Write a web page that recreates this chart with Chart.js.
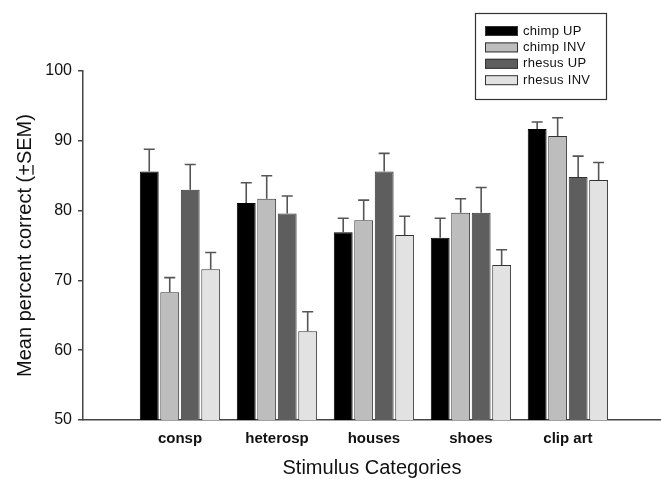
<!DOCTYPE html>
<html>
<head>
<meta charset="utf-8">
<script src="https://cdn.jsdelivr.net/npm/chart.js@4.4.1/dist/chart.umd.min.js"></script>
<style>
  html, body { margin: 0; padding: 0; background: #fff; }
  #wrap { width: 661px; height: 479px; position: relative; }
</style>
</head>
<body>
<div id="wrap"><canvas id="chart"></canvas></div>
<script>
// values (mean % correct, and SEM)
const categories = ['consp', 'heterosp', 'houses', 'shoes', 'clip art'];
const seriesNames = ['chimp UP', 'chimp INV', 'rhesus UP', 'rhesus INV'];
const chimpUp = [85.6, 81.1, 76.9, 76.1, 91.7];
const chimpInv = [68.3, 81.7, 78.6, 79.7, 90.7];
const rhesusUp = [83.0, 79.6, 85.6, 79.7, 84.8];
const rhesusInv = [71.6, 62.7, 76.5, 72.2, 84.4];
const chimpUpSem = [3.2, 2.9, 2.0, 2.8, 1.0];
const chimpInvSem = [2.1, 3.3, 2.9, 2.0, 2.6];
const rhesusUpSem = [3.6, 2.5, 2.6, 3.6, 3.0];
const rhesusInvSem = [2.4, 2.8, 2.7, 2.2, 2.5];
const yTicks = [50, 60, 70, 80, 90, 100];

const FONT = '"Liberation Sans", Arial, sans-serif';
const fills = ['#000000', '#bdbdbd', '#5e5e5e', '#e2e2e2'];
const allValues = [chimpUp, chimpInv, rhesusUp, rhesusInv];
const allSems = [chimpUpSem, chimpInvSem, rhesusUpSem, rhesusInvSem];

const datasets = allValues.map((vals, k) => ({
    label: seriesNames[k],
    data: vals.map((v, i) => ({ x: i, y: v })),
    sem: allSems[k],
    backgroundColor: fills[k],
    borderColor: k === 0 ? '#000000' : '#333333',
    borderWidth: 1,
    categoryPercentage: 0.845,
    barPercentage: 0.92
}));

// error bars (upper half only, like the original)
const errorBars = {
    id: 'errorBars',
    afterDatasetsDraw(chart) {
        const ctx = chart.ctx;
        const y = chart.scales.y;
        ctx.save();
        ctx.strokeStyle = '#555';
        ctx.lineWidth = 1.6;
        chart.data.datasets.forEach((ds, k) => {
            chart.getDatasetMeta(k).data.forEach((bar, i) => {
                const top = y.getPixelForValue(ds.data[i].y + ds.sem[i]);
                ctx.beginPath();
                ctx.moveTo(bar.x, bar.y);
                ctx.lineTo(bar.x, top);
                ctx.moveTo(bar.x - 5.5, top);
                ctx.lineTo(bar.x + 5.5, top);
                ctx.stroke();
            });
        });
        ctx.restore();
    }
};

// axis titles + boxed legend
const extras = {
    id: 'extras',
    afterDraw(chart) {
        const ctx = chart.ctx;
        const area = chart.chartArea;
        ctx.save();
        ctx.fillStyle = '#111';

        // x title
        ctx.font = '20px ' + FONT;
        ctx.textAlign = 'center';
        ctx.textBaseline = 'middle';
        ctx.fillText('Stimulus Categories', 372, 468);

        // y title with the underlined plus
        const title = 'Mean percent correct (+SEM)';
        ctx.translate(25, (area.top + area.bottom) / 2);
        ctx.rotate(-Math.PI / 2);
        ctx.textAlign = 'left';
        const w = ctx.measureText(title).width;
        ctx.fillText(title, -w / 2, 0);
        const pre = ctx.measureText('Mean percent correct (').width;
        const plus = ctx.measureText('+').width;
        ctx.strokeStyle = '#111';
        ctx.lineWidth = 1.3;
        ctx.beginPath();
        ctx.moveTo(-w / 2 + pre + 1, 8);
        ctx.lineTo(-w / 2 + pre + plus - 1, 8);
        ctx.stroke();
        ctx.restore();

        // legend
        ctx.save();
        ctx.strokeStyle = '#333';
        ctx.lineWidth = 1.2;
        ctx.strokeRect(475.5, 13.5, 131, 86);
        ctx.font = '13px ' + FONT;
        ctx.letterSpacing = '0.3px';
        ctx.textBaseline = 'middle';
        chart.data.datasets.forEach((ds, k) => {
            const cy = 31 + k * 16.4;
            ctx.fillStyle = ds.backgroundColor;
            ctx.fillRect(485, cy - 5, 33, 10);
            ctx.strokeStyle = '#333';
            ctx.lineWidth = 1;
            ctx.strokeRect(485.5, cy - 4.5, 32, 9);
            ctx.fillStyle = '#111';
            ctx.fillText(ds.label, 523, cy);
        });
        ctx.restore();
    }
};

new Chart(document.getElementById('chart'), {
    type: 'bar',
    data: { datasets: datasets },
    options: {
        responsive: true,
        maintainAspectRatio: false,
        animation: false,
        layout: { padding: { top: 71, left: 0, right: 0, bottom: 0 } },
        plugins: {
            legend: { display: false },
            tooltip: { enabled: false }
        },
        scales: {
            x: {
                type: 'linear',
                offset: false,
                min: -1,
                max: 4.96,
                afterFit: s => { s.height = 59; },
                grid: { display: false },
                border: { display: true, color: '#444', width: 1.5 },
                ticks: {
                    stepSize: 1,
                    includeBounds: false,
                    autoSkip: false,
                    maxRotation: 0,
                    padding: 2,
                    color: '#111',
                    font: { family: FONT, size: 15, weight: 'bold' },
                    callback: v => (Number.isInteger(v) && categories[v]) || ''
                }
            },
            y: {
                min: 50,
                max: 100,
                afterFit: s => { s.width = 83; },
                afterBuildTicks: s => { s.ticks = yTicks.map(v => ({ value: v })); },
                grid: { drawOnChartArea: false, drawTicks: true, tickLength: 5, color: '#444', lineWidth: 1.5 },
                border: { display: true, color: '#444', width: 1.5 },
                ticks: {
                    padding: 6,
                    color: '#111',
                    font: { family: FONT, size: 16 }
                }
            }
        }
    },
    plugins: [errorBars, extras]
});
</script>
</body>
</html>
